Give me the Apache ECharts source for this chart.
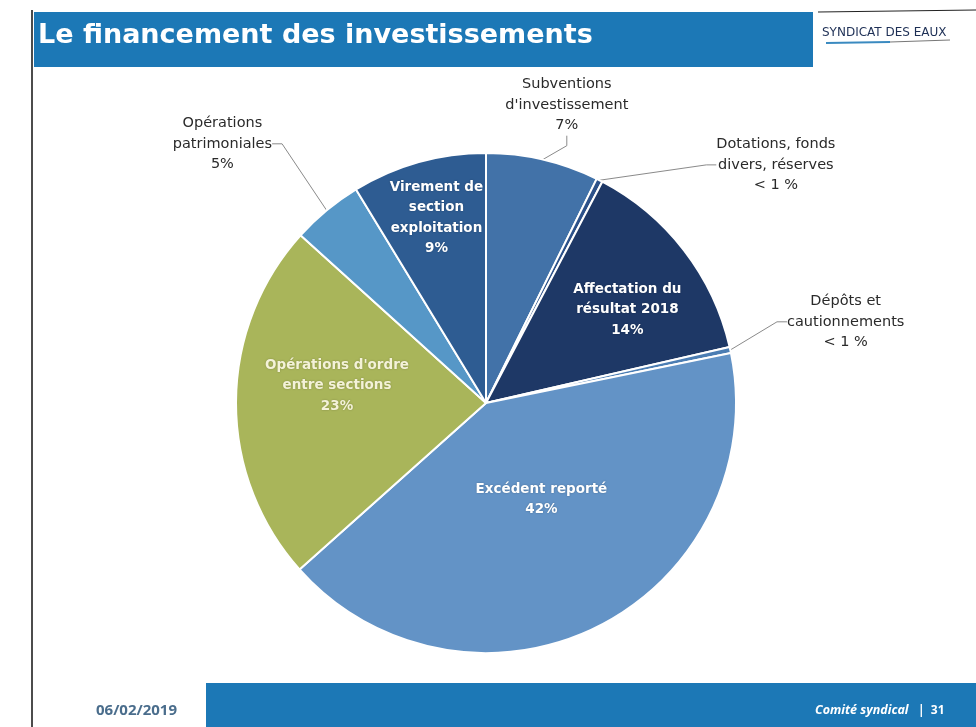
<!DOCTYPE html>
<html>
<head>
<meta charset="utf-8">
<script src="https://cdn.jsdelivr.net/npm/echarts@6/dist/echarts.min.js"></script>
<style>
html,body{margin:0;padding:0;background:#fff;}
#chart{width:976px;height:727px;}
</style>
</head>
<body>
<div id="chart"></div>
<script>
// ---- data ----
const categories = [
  "Subventions\nd'investissement",
  "Dotations, fonds\ndivers, réserves",
  "Affectation du\nrésultat 2018",
  "Dépôts et\ncautionnements",
  "Excédent reporté",
  "Opérations d'ordre\nentre sections",
  "Opérations\npatrimoniales",
  "Virement de\nsection\nexploitation"
];
const values = [7.3, 0.4, 13.7, 0.4, 41.6, 23.3, 4.6, 8.7];
const insideLabel = [false, false, true, false, true, true, false, true];

// ---- styles ----
const palette = ['#4272a8', '#2c5189', '#1e3866', '#4b7db3', '#6393c6', '#a9b55a', '#5697c7', '#2e5c92'];
const labelNudge = [
  [-56, -40], [95, -2], [40, -15], [27, -25],
  [-2, -18], [-21, -17], [-30, -55], [-15, -62]
];

const chart = echarts.init(document.getElementById('chart'), null, {renderer: 'canvas'});

const data = categories.map((name, i) => ({
  name: name,
  value: values[i],
  itemStyle: {color: palette[i]},
  label: insideLabel[i]
    ? {position: 'inside', color: i === 5 ? '#f4f2d8' : '#ffffff', fontWeight: 'bold', fontSize: 13.5, lineHeight: 20.5, textShadowColor: 'rgba(0,0,0,0.25)', textShadowBlur: 2}
    : {position: 'outside', color: '#2a2a2a', fontSize: 14.5, lineHeight: 20.5},
  labelLine: {show: !insideLabel[i]}
}));

const option = {
  backgroundColor: '#ffffff',
  animation: false,
  graphic: [
    {type: 'line', shape: {x1: 32, y1: 10, x2: 32, y2: 727}, style: {stroke: '#111', lineWidth: 1.5}},
    {type: 'rect', shape: {x: 34, y: 12, width: 779, height: 55}, style: {fill: '#1c78b6'}},
    {type: 'text', left: 38, top: 22, style: {text: 'Le financement des investissements', fill: '#ffffff', font: 'bold 27px "DejaVu Sans", sans-serif'}},
    {type: 'line', shape: {x1: 818, y1: 12, x2: 976, y2: 10}, style: {stroke: '#222', lineWidth: 1}},
    {type: 'text', left: 822, top: 27, style: {text: 'SYNDICAT DES EAUX', fill: '#1d2f55', font: '12px "DejaVu Sans", sans-serif'}},
    {type: 'line', shape: {x1: 826, y1: 43, x2: 890, y2: 42}, style: {stroke: '#3a8ac0', lineWidth: 2}},
    {type: 'line', shape: {x1: 890, y1: 42, x2: 950, y2: 40}, style: {stroke: '#777', lineWidth: 1}},
    {type: 'rect', shape: {x: 206, y: 683, width: 770, height: 44}, style: {fill: '#1c78b6'}},
    {type: 'text', left: 96, top: 703, style: {text: '06/02/2019', fill: '#4a6d8c', font: 'bold 15px "Open Sans", sans-serif'}},
    {type: 'text', left: 815, top: 704, style: {text: 'Comité syndical', fill: '#ffffff', font: 'italic bold 12.5px "Open Sans", sans-serif'}},
    {type: 'text', left: 918, top: 705, style: {text: '|  31', fill: '#ffffff', font: 'bold 12px "Open Sans", sans-serif'}}
  ],
  series: [{
    type: 'pie',
    center: [486, 403],
    radius: 250,
    startAngle: 90,
    clockwise: true,
    avoidLabelOverlap: false,
    itemStyle: {borderColor: '#ffffff', borderWidth: 2},
    label: {
      fontFamily: '"DejaVu Sans", sans-serif',
      formatter: p => p.name + '\n' + (p.percent < 1 ? '< 1 %' : Math.round(p.percent) + '%')
    },
    labelLine: {length: 15, length2: 10, lineStyle: {color: '#8a8a8a', width: 1}},
    labelLayout: function (params) {
      const n = labelNudge[params.dataIndex];
      const r = params.labelRect;
      return {
        x: r.x + r.width / 2 + n[0],
        y: r.y + r.height / 2 + n[1],
        align: 'center',
        verticalAlign: 'middle'
      };
    },
    data: data
  }]
};
chart.setOption(option);
</script>
</body>
</html>
